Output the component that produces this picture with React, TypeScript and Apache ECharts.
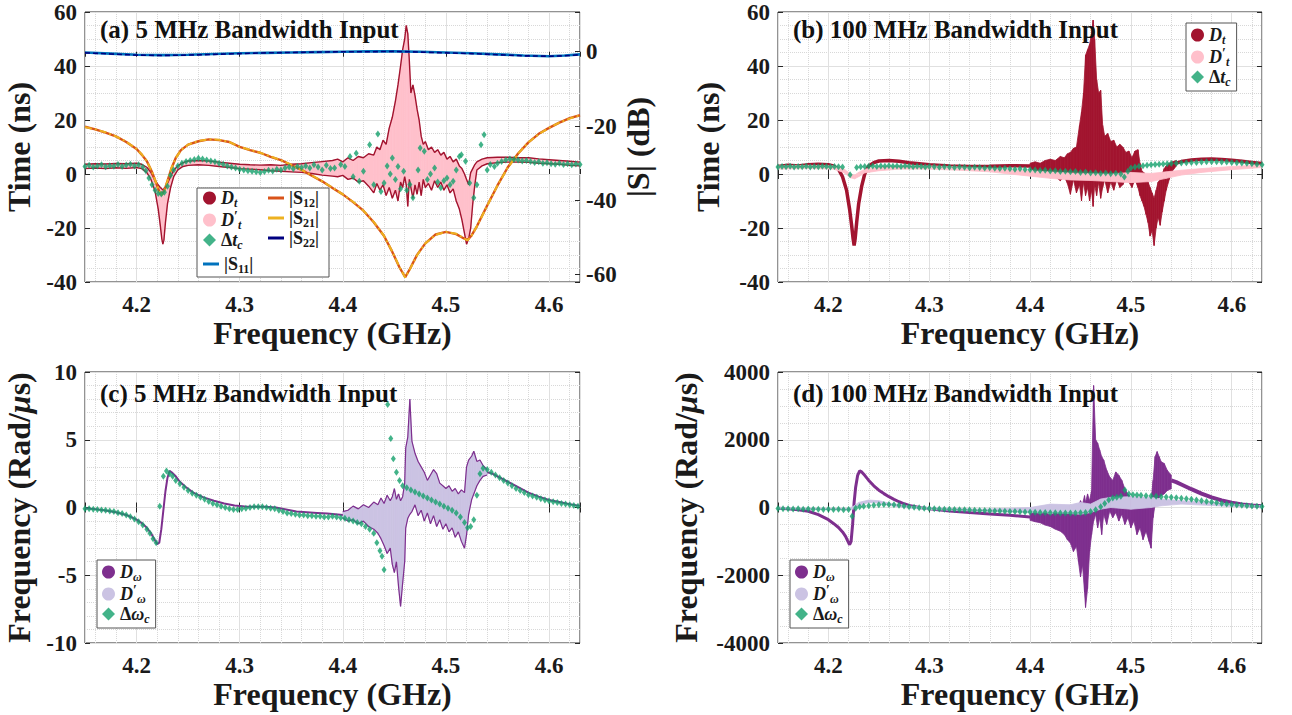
import React, { useEffect, useRef } from "react";
import * as echarts from "echarts";

const FONT = "Liberation Serif, Times New Roman, serif";
const INK = "#1a1a1a";
const RED = "#a2142f";
const PINK = "#ffc0cb";
const GREEN = "#14a06c";
const PURPLE = "#7e2f8e";
const LAVENDER = "#cbc3e3";
const C_S11 = "#0072bd";
const C_S12 = "#d95319";
const C_S21 = "#edb120";
const C_S22 = "#000080";

// ---------- tick labels ----------
const xTicks = [4.2, 4.3, 4.4, 4.5, 4.6];
const timeTicks = [-40, -20, 0, 20, 40, 60];
const sTicks = [-60, -40, -20, 0];
const radTicksC = [-10, -5, 0, 5, 10];
const radTicksD = [-4000, -2000, 0, 2000, 4000];

// ---------- (a) 5 MHz : D_t envelope [f, low, high] (pink D't fills between) ----------
const aDtEnvelope = [
  [4.150, 2.0, 3.6], [4.160, 2.2, 3.8], [4.170, 2.0, 3.7], [4.180, 2.3, 3.9], [4.190, 2.1, 3.8],
  [4.200, 2.4, 4.0], [4.205, 2.0, 3.6], [4.210, 0.5, 2.5], [4.214, -2.0, 0.5], [4.218, -6.5, -2.5],
  [4.221, -13.0, -4.0], [4.223, -19.0, -5.0], [4.2245, -24.0, -5.5], [4.2255, -26.0, -6.0], [4.2265, -24.5, -5.5],
  [4.228, -18.0, -5.0], [4.230, -11.0, -3.5], [4.233, -5.0, -1.0], [4.236, -1.0, 1.5], [4.240, 1.5, 3.0],
  [4.245, 2.8, 4.2], [4.250, 3.2, 4.8], [4.260, 3.4, 5.0], [4.270, 3.2, 4.8], [4.280, 2.8, 4.4],
  [4.290, 2.4, 4.0], [4.300, 2.0, 3.6], [4.310, 1.8, 3.4], [4.320, 1.6, 3.3], [4.330, 1.2, 3.4],
  [4.340, 1.0, 3.2], [4.350, 0.8, 3.6], [4.360, 0.6, 3.8], [4.370, 0.2, 4.2], [4.380, -0.4, 4.6],
  [4.390, -0.8, 5.0], [4.395, -1.0, 5.5], [4.400, -0.5, 4.5], [4.405, -2.0, 6.0], [4.410, -1.5, 5.0],
  [4.415, -3.0, 6.5], [4.420, -2.5, 6.0], [4.425, -4.5, 7.5], [4.430, -7.0, 7.0], [4.433, -3.5, 10.0],
  [4.436, -6.0, 9.0], [4.439, -4.0, 12.5], [4.442, -8.0, 11.0], [4.445, -5.0, 17.0], [4.448, -9.0, 21.0],
  [4.451, -6.0, 27.0], [4.4535, -10.0, 33.0], [4.456, -3.0, 40.0], [4.458, -5.0, 46.0], [4.460, -1.0, 50.0],
  [4.4615, -4.0, 55.0], [4.463, -12.0, 52.0], [4.4645, -2.0, 42.0], [4.466, -5.0, 30.0], [4.468, -9.0, 33.0],
  [4.470, -4.0, 29.0], [4.472, -7.5, 24.0], [4.474, -3.0, 20.0], [4.476, -8.0, 14.0], [4.478, -2.0, 11.0],
  [4.480, -5.0, 12.0], [4.483, -3.5, 9.0], [4.486, -6.0, 10.0], [4.489, -2.5, 8.0], [4.492, -5.0, 9.0],
  [4.495, -3.0, 7.0], [4.498, -6.0, 8.0], [4.501, -4.0, 5.5], [4.504, -7.0, 6.5], [4.507, -5.5, 4.5],
  [4.510, -10.0, 5.5], [4.513, -13.0, 3.0], [4.5155, -17.0, 2.0], [4.518, -22.0, 0.0], [4.520, -26.0, -2.0],
  [4.522, -24.0, -4.0], [4.524, -20.0, 0.5], [4.526, -11.0, 2.0], [4.528, -4.0, 3.5], [4.530, 1.5, 4.5],
  [4.535, 3.0, 5.5], [4.540, 3.8, 6.0], [4.550, 4.2, 6.2], [4.560, 4.4, 6.2], [4.570, 4.4, 6.0],
  [4.580, 4.3, 6.0], [4.590, 4.0, 5.6], [4.600, 3.8, 5.3], [4.610, 3.6, 5.0], [4.620, 3.2, 4.7],
  [4.630, 3.0, 4.4],
];

const aDtc = [
  [4.150, 2.8], [4.154, 3.2], [4.158, 2.6], [4.162, 3.0], [4.166, 3.4], [4.170, 2.7], [4.174, 3.1],
  [4.178, 2.9], [4.182, 3.5], [4.186, 2.8], [4.190, 3.3], [4.194, 3.6], [4.198, 3.0], [4.202, 3.4],
  [4.206, 2.6], [4.209, 1.2], [4.212, -1.5], [4.215, -4.0], [4.218, -6.0], [4.221, -7.2], [4.224, -7.4],
  [4.227, -6.8], [4.230, -4.5], [4.233, -0.5], [4.236, 1.5], [4.240, 3.0], [4.244, 4.0], [4.248, 4.6],
  [4.252, 5.0], [4.256, 5.4], [4.260, 5.8], [4.264, 5.6], [4.268, 5.2], [4.272, 4.8], [4.276, 4.5],
  [4.280, 4.0], [4.284, 3.6], [4.288, 3.0], [4.292, 2.6], [4.296, 2.2], [4.300, 1.8], [4.304, 1.5],
  [4.308, 1.2], [4.312, 1.0], [4.316, 0.8], [4.320, 0.6], [4.324, 0.9], [4.328, 1.4], [4.332, 1.1],
  [4.336, 1.8], [4.340, 1.5], [4.344, 2.2], [4.348, 2.6], [4.352, 1.9], [4.356, 2.8], [4.360, 2.4],
  [4.364, 3.0], [4.368, 2.2], [4.372, 3.4], [4.376, 2.6], [4.380, 1.5], [4.384, 3.2], [4.388, 2.0],
  [4.392, 2.2], [4.398, 3.5], [4.402, 2.8], [4.407, 6.5], [4.410, -1.0], [4.413, 7.7], [4.416, -2.7],
  [4.420, 1.0], [4.426, 10.8], [4.430, -4.0], [4.434, 14.8], [4.437, -6.5], [4.440, -3.3], [4.443, 3.0],
  [4.446, 0.0], [4.448, 5.9], [4.451, -2.0], [4.4535, 2.8], [4.456, -5.5], [4.459, 1.0], [4.462, -6.0],
  [4.465, -3.9], [4.468, -8.8], [4.473, 1.5], [4.475, 9.6], [4.479, 8.4], [4.482, -2.0], [4.485, 0.0],
  [4.489, 2.2], [4.492, -3.0], [4.495, -5.1], [4.498, -2.5], [4.501, -1.5], [4.504, -4.0], [4.507, -2.7],
  [4.510, 1.5], [4.513, 6.5], [4.515, 7.1], [4.519, 4.7], [4.523, -3.3], [4.527, -8.8], [4.530, -4.0],
  [4.534, 10.8], [4.537, 14.5], [4.540, 1.5], [4.543, 3.5], [4.547, 2.8], [4.550, 4.0], [4.554, 4.6],
  [4.558, 5.2], [4.562, 5.6], [4.566, 5.4], [4.570, 5.2], [4.574, 4.8], [4.578, 5.0], [4.582, 4.6],
  [4.586, 4.3], [4.590, 4.5], [4.594, 4.0], [4.598, 4.2], [4.602, 3.8], [4.606, 3.6], [4.610, 4.0],
  [4.614, 3.5], [4.618, 3.8], [4.622, 3.4], [4.626, 3.7], [4.630, 3.5],
];

// S-parameters (dB)
const sFreqNear0 = [4.150, 4.175, 4.200, 4.225, 4.250, 4.275, 4.300, 4.325, 4.350, 4.375, 4.400,
  4.425, 4.450, 4.475, 4.500, 4.525, 4.550, 4.575, 4.600, 4.615, 4.630];
const s11 = [-0.2, -0.5, -0.8, -0.9, -0.8, -0.6, -0.4, -0.3, -0.2, -0.1, 0.0, 0.1, 0.1, 0.0, -0.2, -0.4,
  -0.7, -1.0, -1.2, -1.0, -0.7];
const s22 = [-0.3, -0.6, -0.9, -1.0, -0.9, -0.7, -0.5, -0.3, -0.2, -0.1, 0.0, 0.0, 0.1, -0.1, -0.3, -0.5,
  -0.8, -1.1, -1.2, -1.1, -0.8];
const sFreqTrans = [4.150, 4.160, 4.170, 4.180, 4.190, 4.200, 4.205, 4.210, 4.215, 4.219, 4.222, 4.2245,
  4.227, 4.230, 4.234, 4.238, 4.243, 4.250, 4.260, 4.270, 4.280, 4.290, 4.300, 4.310, 4.320, 4.330,
  4.340, 4.350, 4.360, 4.370, 4.380, 4.390, 4.400, 4.410, 4.420, 4.430, 4.440, 4.448, 4.455, 4.4605,
  4.465, 4.472, 4.480, 4.490, 4.500, 4.510, 4.517, 4.521, 4.525, 4.530, 4.540, 4.550, 4.560, 4.570,
  4.580, 4.590, 4.600, 4.610, 4.620, 4.630];
const s21 = [-20.3, -20.9, -21.7, -22.8, -24.2, -26.2, -27.6, -29.5, -32.3, -35.3, -37.6, -38.6,
  -37.4, -34.8, -31.2, -28.6, -26.6, -25.0, -24.0, -23.6, -23.7, -24.3, -25.6, -26.4, -27.2, -28.2,
  -29.2, -30.4, -31.8, -33.3, -34.9, -36.6, -38.4, -40.4, -42.8, -45.8, -49.6, -53.8, -58.0, -60.8,
  -58.6, -54.8, -51.6, -49.3, -48.5, -49.0, -50.2, -50.8, -49.5, -47.0, -41.5, -36.0, -31.2, -27.4,
  -24.4, -22.2, -20.5, -19.1, -18.0, -17.1];
const s12 = [-20.2, -20.9, -21.8, -22.8, -24.3, -26.2, -27.7, -29.5, -32.4, -35.3, -37.7, -38.5,
  -37.3, -34.8, -31.3, -28.6, -26.5, -25.0, -24.1, -23.6, -23.8, -24.3, -25.6, -26.5, -27.2, -28.3,
  -29.2, -30.5, -31.8, -33.4, -34.9, -36.7, -38.4, -40.5, -42.8, -45.9, -49.6, -53.9, -58.1, -60.7,
  -58.5, -54.7, -51.6, -49.2, -48.5, -49.1, -50.2, -50.7, -49.4, -47.0, -41.4, -36.0, -31.1, -27.4,
  -24.4, -22.1, -20.5, -19.1, -17.9, -17.1];

// ---------- (b) 100 MHz ----------
const bDtLeft = [
  [4.150, 2.8], [4.160, 3.2], [4.170, 3.0], [4.180, 3.4], [4.190, 3.6], [4.200, 3.4], [4.205, 3.0],
  [4.210, 1.8], [4.214, -1.0], [4.218, -6.0], [4.221, -13.0], [4.223, -19.0], [4.2245, -24.0],
  [4.2255, -26.5], [4.2265, -24.0], [4.228, -18.0], [4.230, -11.0], [4.233, -4.5], [4.236, 0.0],
  [4.240, 3.0], [4.245, 4.2], [4.250, 4.8], [4.260, 5.0], [4.270, 4.7], [4.280, 4.2], [4.290, 3.8],
  [4.300, 3.4], [4.320, 3.0], [4.340, 2.8], [4.360, 2.9], [4.380, 3.1], [4.400, 3.0],
];
const bDtNoise = [
  [4.400, 2.0, 4.0], [4.405, 1.0, 4.5], [4.410, 1.5, 4.0], [4.415, 0.0, 5.0], [4.420, 1.0, 5.5],
  [4.425, -1.0, 5.0], [4.430, -2.5, 6.5], [4.434, -1.0, 6.0], [4.437, -3.5, 7.5], [4.440, -7.5, 8.0],
  [4.443, -2.0, 9.5], [4.446, -7.0, 10.0], [4.449, -4.0, 18.0], [4.451, -10.0, 23.0], [4.453, -3.0, 30.0],
  [4.455, -8.0, 44.0], [4.457, -5.0, 46.0], [4.459, -10.0, 48.0], [4.461, -6.0, 52.0], [4.4625, -12.0, 57.0],
  [4.464, -4.0, 50.0], [4.466, -8.0, 35.0], [4.468, -3.0, 30.0], [4.470, -9.0, 31.0], [4.472, -5.0, 18.0],
  [4.474, -2.0, 14.0], [4.477, -7.0, 15.0], [4.480, -3.0, 12.0], [4.483, -6.0, 12.5], [4.486, -2.0, 10.0],
  [4.489, -5.0, 11.0], [4.492, -4.0, 10.0], [4.495, -1.5, 8.0], [4.498, -3.0, 8.5], [4.501, -5.0, 6.0],
  [4.504, -2.0, 8.5], [4.507, -5.0, 9.0], [4.509, -8.0, 4.0], [4.511, -10.0, 1.0], [4.513, -12.0, 0.5],
  [4.515, -15.0, -1.0], [4.517, -18.0, -3.0], [4.519, -23.0, -5.0], [4.521, -21.0, -7.0], [4.523, -26.5, -9.0],
  [4.525, -20.0, -6.0], [4.527, -16.0, -3.0], [4.529, -19.0, -2.0], [4.531, -14.0, 0.0], [4.533, -10.0, 2.0],
  [4.535, -6.0, 3.0], [4.538, -2.0, 4.0], [4.541, 1.0, 4.5], [4.545, 3.0, 5.0],
];
const bDtRight = [
  [4.545, 4.0], [4.550, 4.6], [4.560, 5.2], [4.570, 5.5], [4.580, 5.6], [4.590, 5.4], [4.600, 5.1],
  [4.610, 4.7], [4.620, 4.3], [4.630, 3.9],
];
const bDtPrime = [
  [4.150, 1.8, 3.0], [4.180, 2.0, 3.2], [4.205, 1.8, 3.0], [4.215, 0.6, 2.0], [4.222, -1.4, 0.0],
  [4.226, -1.8, -0.4], [4.230, -1.0, 0.6], [4.236, 0.4, 1.8], [4.250, 1.2, 2.6], [4.270, 1.8, 3.0],
  [4.300, 1.8, 3.0], [4.330, 1.4, 2.6], [4.360, 0.8, 2.2], [4.380, 0.0, 1.6], [4.400, -0.8, 1.2],
  [4.420, -1.6, 0.8], [4.440, -2.2, 0.4], [4.460, -2.4, 0.2], [4.480, -2.8, 0.0], [4.500, -3.2, 0.6],
  [4.520, -2.8, 0.2], [4.535, -1.6, 0.8], [4.550, -0.4, 1.4], [4.570, 0.6, 2.0], [4.600, 1.6, 2.8],
  [4.630, 2.4, 3.4],
];
const bDtc = [
  [4.150, 2.6], [4.154, 2.8], [4.158, 2.7], [4.162, 2.9], [4.166, 2.6], [4.170, 2.8], [4.174, 2.7],
  [4.178, 2.9], [4.182, 2.6], [4.186, 2.8], [4.190, 2.7], [4.194, 2.9], [4.198, 2.8], [4.202, 2.6],
  [4.206, 2.8], [4.210, 2.7], [4.214, 2.6], [4.2215, -0.3], [4.228, 2.4], [4.232, 2.7], [4.236, 2.8],
  [4.240, 2.9], [4.244, 3.0], [4.248, 2.8], [4.252, 3.0], [4.256, 2.9], [4.260, 3.1], [4.264, 2.9],
  [4.268, 3.0], [4.272, 2.8], [4.276, 3.0], [4.280, 2.9], [4.284, 2.7], [4.288, 2.9], [4.292, 2.8],
  [4.296, 2.6], [4.300, 2.8], [4.305, 2.7], [4.310, 2.5], [4.315, 2.7], [4.320, 2.6], [4.325, 2.4],
  [4.330, 2.6], [4.335, 2.5], [4.340, 2.3], [4.345, 2.5], [4.350, 2.4], [4.355, 2.2], [4.360, 2.3],
  [4.365, 2.1], [4.370, 2.0], [4.375, 2.1], [4.380, 1.9], [4.385, 1.8], [4.390, 1.9], [4.395, 1.7],
  [4.400, 1.6], [4.405, 1.5], [4.410, 1.3], [4.415, 1.4], [4.420, 1.1], [4.425, 1.2], [4.430, 0.9],
  [4.435, 1.0], [4.440, 0.8], [4.445, 0.9], [4.450, 0.6], [4.455, 0.7], [4.460, 0.4], [4.465, 0.5],
  [4.470, 0.2], [4.475, 0.4], [4.480, 0.1], [4.485, 0.3], [4.490, 0.0], [4.4935, -1.1], [4.497, 1.0],
  [4.500, 2.2], [4.504, 2.6], [4.508, 2.9], [4.512, 3.1], [4.516, 3.2], [4.520, 3.4], [4.524, 3.5],
  [4.528, 3.6], [4.532, 3.7], [4.536, 3.8], [4.540, 3.9], [4.545, 4.0], [4.550, 4.1], [4.555, 4.2],
  [4.560, 4.3], [4.565, 4.3], [4.570, 4.4], [4.575, 4.5], [4.580, 4.5], [4.585, 4.5], [4.590, 4.4],
  [4.595, 4.4], [4.600, 4.3], [4.605, 4.2], [4.610, 4.1], [4.615, 4.0], [4.620, 3.8], [4.625, 3.6],
  [4.630, 3.4],
];

// ---------- (c) 5 MHz : D_omega ----------
const cDwLeft = [
  [4.150, -0.05], [4.160, -0.12], [4.170, -0.22], [4.180, -0.35], [4.190, -0.55], [4.200, -0.9],
  [4.205, -1.15], [4.210, -1.5], [4.214, -1.9], [4.217, -2.3], [4.220, -2.7], [4.222, -2.6],
  [4.224, -1.6], [4.226, -0.2], [4.228, 1.2], [4.230, 2.2], [4.232, 2.7], [4.234, 2.6], [4.238, 2.3],
  [4.242, 1.9], [4.248, 1.5], [4.255, 1.1], [4.265, 0.75], [4.275, 0.5], [4.285, 0.3], [4.295, 0.15],
  [4.305, 0.08], [4.315, 0.05], [4.325, 0.05], [4.335, 0.0], [4.345, -0.15], [4.355, -0.3],
  [4.365, -0.35], [4.375, -0.4], [4.385, -0.45], [4.400, -0.55],
];
const cDwNoise = [
  [4.400, -0.8, -0.3], [4.405, -1.0, -0.2], [4.410, -0.9, 0.1], [4.415, -1.2, -0.1], [4.420, -1.0, 0.2],
  [4.425, -1.4, 0.0], [4.430, -1.6, 0.4], [4.434, -1.9, 0.2], [4.437, -2.3, 0.7], [4.440, -2.8, 0.3],
  [4.443, -3.4, 0.9], [4.446, -3.0, 0.5], [4.448, -4.2, 0.8], [4.450, -4.8, 1.4], [4.452, -4.0, 0.6],
  [4.454, -5.8, 1.0], [4.456, -7.3, 0.5], [4.458, -5.6, 0.8], [4.460, -4.0, 1.8], [4.461, -1.5, 4.4],
  [4.463, -0.8, 5.2], [4.465, -0.5, 8.0], [4.467, -0.3, 4.9], [4.470, 0.2, 4.0], [4.473, -0.6, 3.4],
  [4.476, -0.2, 3.0], [4.479, -1.0, 2.6], [4.482, -0.4, 2.0], [4.485, -1.2, 2.4], [4.488, -0.6, 2.8],
  [4.491, -1.4, 2.5], [4.494, -0.9, 1.8], [4.497, -1.6, 1.6], [4.500, -1.2, 1.4], [4.503, -1.8, 1.6],
  [4.506, -1.5, 1.2], [4.509, -2.2, 1.4], [4.512, -1.8, 1.0], [4.515, -2.5, 1.3], [4.518, -3.0, 1.1],
  [4.520, -2.0, 3.0], [4.522, -0.5, 3.5], [4.525, 0.6, 3.8], [4.527, 1.0, 4.15], [4.530, 1.6, 3.4],
  [4.533, 2.0, 3.5], [4.536, 2.3, 3.1], [4.540, 2.4, 2.8],
];
const cDwRight = [
  [4.540, 2.6], [4.545, 2.5], [4.550, 2.3], [4.560, 1.9], [4.570, 1.5], [4.580, 1.1], [4.590, 0.8],
  [4.600, 0.55], [4.610, 0.4], [4.620, 0.25], [4.630, 0.12],
];
const cDwc = [
  [4.150, -0.1], [4.154, -0.1], [4.158, -0.12], [4.162, -0.15], [4.166, -0.18], [4.170, -0.2],
  [4.174, -0.25], [4.178, -0.3], [4.182, -0.38], [4.186, -0.45], [4.190, -0.55], [4.194, -0.68],
  [4.198, -0.85], [4.202, -1.05], [4.206, -1.3], [4.210, -1.6], [4.213, -1.9], [4.216, -2.3],
  [4.219, -2.6], [4.2225, 0.1], [4.226, 2.3], [4.229, 2.7], [4.232, 2.5], [4.235, 2.3], [4.238, 2.0],
  [4.242, 1.75], [4.246, 1.5], [4.250, 1.25], [4.254, 1.05], [4.258, 0.9], [4.262, 0.75], [4.266, 0.6],
  [4.270, 0.45], [4.274, 0.3], [4.278, 0.2], [4.282, 0.1], [4.286, 0.0], [4.290, -0.1], [4.294, -0.15],
  [4.298, -0.15], [4.302, -0.1], [4.306, -0.05], [4.310, 0.0], [4.314, 0.05], [4.318, 0.05],
  [4.322, 0.05], [4.326, 0.0], [4.330, -0.05], [4.334, -0.1], [4.338, -0.2], [4.342, -0.3],
  [4.346, -0.4], [4.350, -0.45], [4.354, -0.5], [4.358, -0.55], [4.362, -0.55], [4.366, -0.6],
  [4.370, -0.6], [4.374, -0.65], [4.378, -0.65], [4.382, -0.7], [4.386, -0.7], [4.390, -0.65],
  [4.394, -0.7], [4.398, -0.75], [4.402, -0.8], [4.406, -0.9], [4.410, -1.0], [4.414, -1.1],
  [4.418, -1.2], [4.422, -1.4], [4.426, -1.6], [4.430, -1.9], [4.433, -2.6], [4.436, -3.2],
  [4.438, -3.6], [4.440, -4.6], [4.4435, 7.6], [4.4465, 5.1], [4.449, 3.6], [4.452, 2.6], [4.455, 2.0],
  [4.458, 1.6], [4.462, 1.45], [4.466, 1.3], [4.470, 1.15], [4.474, 1.0], [4.478, 0.85], [4.482, 0.7],
  [4.486, 0.55], [4.490, 0.4], [4.494, 0.25], [4.498, 0.1], [4.502, -0.05], [4.506, -0.2], [4.510, -0.4],
  [4.514, -0.7], [4.518, -1.1], [4.521, -1.5], [4.524, -1.4], [4.527, -0.9], [4.530, 0.9], [4.533, 2.5],
  [4.536, 2.9], [4.540, 2.8], [4.544, 2.6], [4.548, 2.4], [4.552, 2.2], [4.556, 2.0], [4.560, 1.8],
  [4.564, 1.6], [4.568, 1.4], [4.572, 1.25], [4.576, 1.1], [4.580, 0.95], [4.584, 0.85], [4.588, 0.75],
  [4.592, 0.65], [4.596, 0.55], [4.600, 0.48], [4.604, 0.42], [4.608, 0.36], [4.612, 0.3], [4.616, 0.25],
  [4.620, 0.2], [4.624, 0.15], [4.628, 0.1],
];

// ---------- (d) 100 MHz : D_omega ----------
const dDwLeft = [
  [4.150, -20], [4.160, -40], [4.170, -70], [4.180, -110], [4.190, -210], [4.200, -360], [4.205, -470],
  [4.210, -590], [4.214, -720], [4.217, -850], [4.219, -980], [4.221, -1100], [4.2225, -1000],
  [4.224, -500], [4.2255, 150], [4.227, 600], [4.229, 950], [4.231, 1080], [4.233, 1050], [4.236, 950],
  [4.240, 800], [4.245, 640], [4.250, 510], [4.255, 410], [4.260, 320], [4.265, 240], [4.270, 170],
  [4.275, 110], [4.280, 60], [4.290, 0], [4.300, -40], [4.320, -100], [4.340, -150], [4.360, -190],
  [4.380, -230], [4.400, -280],
];
const dDwNoise = [
  [4.400, -380, -180], [4.405, -420, -150], [4.410, -450, -200], [4.415, -520, -150], [4.420, -560, -220],
  [4.425, -640, -150], [4.430, -700, -200], [4.434, -800, -100], [4.437, -950, -150], [4.440, -1050, -50],
  [4.443, -1300, -100], [4.446, -1150, 100], [4.448, -1600, 50], [4.450, -2050, 200], [4.452, -1700, 100],
  [4.454, -2500, 350], [4.455, -2950, 150], [4.457, -2400, 400], [4.459, -1300, 200], [4.461, -800, 500],
  [4.463, -400, 3600], [4.465, -200, 2000], [4.467, -600, 1900], [4.469, -300, 1700], [4.471, -800, 1500],
  [4.473, -200, 1400], [4.476, -500, 1100], [4.479, -100, 900], [4.482, -300, 800], [4.485, -150, 1050],
  [4.488, -400, 950], [4.491, -200, 800], [4.494, -500, 550], [4.497, -300, 400], [4.500, -600, 300],
  [4.503, -400, 250], [4.506, -800, 200], [4.509, -600, 150], [4.512, -950, 200], [4.515, -700, 150],
  [4.518, -1000, 100], [4.520, -1200, 200], [4.522, -300, 800], [4.524, 100, 1500], [4.526, 200, 1650],
  [4.528, 300, 1500], [4.530, 350, 1350], [4.533, 400, 1300], [4.536, 500, 1100], [4.540, 550, 950],
];
const dDwRight = [
  [4.540, 800], [4.545, 750], [4.550, 680], [4.560, 540], [4.570, 410], [4.580, 300], [4.590, 210],
  [4.600, 140], [4.610, 90], [4.620, 60], [4.630, 40],
];
const dDwPrime = [
  [4.150, -40, 0], [4.200, -60, -20], [4.220, -80, -20], [4.225, -40, 40], [4.230, 50, 150],
  [4.240, 150, 220], [4.250, 130, 200], [4.260, 60, 130], [4.280, -20, 40], [4.300, -60, 0],
  [4.350, -110, -50], [4.400, -150, 0], [4.420, -150, 100], [4.440, -180, 80], [4.450, -200, 150],
  [4.460, -150, 100], [4.470, -50, 250], [4.480, 0, 300], [4.500, -50, 320], [4.520, 0, 300],
  [4.530, 50, 250], [4.550, 100, 200], [4.580, 60, 150], [4.600, 30, 100], [4.630, 0, 50],
];
const dDwc = [
  [4.150, -30], [4.155, -40], [4.160, -35], [4.165, -45], [4.170, -40], [4.175, -50], [4.180, -45],
  [4.185, -55], [4.190, -50], [4.195, -60], [4.200, -55], [4.205, -60], [4.210, -55], [4.215, -65],
  [4.220, -60], [4.2235, -260], [4.227, -20], [4.231, 20], [4.235, 40], [4.240, 55], [4.245, 70],
  [4.250, 80], [4.255, 90], [4.260, 90], [4.265, 80], [4.270, 65], [4.275, 45], [4.280, 25], [4.285, 10],
  [4.290, -5], [4.295, -20], [4.300, -30], [4.305, -40], [4.310, -45], [4.315, -50], [4.320, -55],
  [4.325, -60], [4.330, -65], [4.335, -70], [4.340, -75], [4.345, -80], [4.350, -85], [4.355, -90],
  [4.360, -95], [4.365, -100], [4.370, -105], [4.375, -110], [4.380, -115], [4.385, -120], [4.390, -125],
  [4.395, -130], [4.400, -135], [4.405, -140], [4.410, -145], [4.415, -148], [4.420, -152], [4.425, -156],
  [4.430, -160], [4.435, -163], [4.440, -165], [4.445, -163], [4.450, -158], [4.455, -145], [4.460, -120],
  [4.465, -70], [4.470, 20], [4.474, 120], [4.478, 220], [4.482, 280], [4.486, 300], [4.490, 330],
  [4.494, 520], [4.498, 400], [4.502, 380], [4.506, 370], [4.510, 360], [4.515, 350], [4.520, 340],
  [4.525, 330], [4.530, 320], [4.535, 310], [4.540, 300], [4.545, 290], [4.550, 275], [4.555, 260],
  [4.560, 240], [4.565, 220], [4.570, 200], [4.575, 180], [4.580, 160], [4.585, 140], [4.590, 120],
  [4.595, 105], [4.600, 90], [4.605, 75], [4.610, 65], [4.615, 55], [4.620, 45], [4.625, 35], [4.630, 30],
];

// ---------- helpers ----------
const pairs = (xs: number[], ys: number[]) => xs.map((x, i) => [x, ys[i]]);
const edge = (env: number[][], k: number) => env.map((r) => [r[0], r[k]]);

function bandSeries(name: string, xi: number, yi: number, env: number[][], color: string, z: number) {
  const data: number[][] = [];
  for (let i = 0; i < env.length - 1; i++) {
    data.push([env[i][0], env[i][1], env[i][2], env[i + 1][0], env[i + 1][1], env[i + 1][2]]);
  }
  return {
    name, type: "custom", xAxisIndex: xi, yAxisIndex: yi, z, clip: true, silent: true,
    itemStyle: { color },
    encode: { x: [0, 3], y: [1, 2, 4, 5] },
    data,
    renderItem: (_p: any, api: any) => {
      const p1 = api.coord([api.value(0), api.value(1)]);
      const p2 = api.coord([api.value(3), api.value(4)]);
      const p3 = api.coord([api.value(3), api.value(5)]);
      const p4 = api.coord([api.value(0), api.value(2)]);
      return {
        type: "polygon",
        shape: { points: [p1, p2, p3, p4] },
        style: { fill: color, stroke: color, lineWidth: 0.8 },
      };
    },
  };
}

function lineSeries(name: string, xi: number, yi: number, data: number[][], color: string, width: number, z: number, type: any = "solid") {
  return {
    name, type: "line", xAxisIndex: xi, yAxisIndex: yi, data, z, silent: true,
    showSymbol: false, symbol: "none", clip: true,
    lineStyle: { color, width, type },
    itemStyle: { color },
  };
}

function scatterSeries(name: string, xi: number, yi: number, data: number[][], z: number) {
  return {
    name, type: "scatter", xAxisIndex: xi, yAxisIndex: yi, data, z, silent: true, clip: true,
    symbol: "diamond", symbolSize: [5, 7],
    itemStyle: { color: GREEN },
  };
}

const TICK = 23;
const NAME = 32;
const gridLine = () => ({ color: "#e0e0e0", width: 1 });
const minorLine = () => ({ color: "#d8d8d8", width: 1, type: "dotted" });
const labelStyle = () => ({ fontFamily: FONT, fontWeight: "bold", fontSize: TICK, color: INK });
const nameStyle = () => ({ fontFamily: FONT, fontWeight: "bold", fontSize: NAME, color: INK });

const tickFmt = (ticks: number[], digits: number) => (v: number) =>
  ticks.some((t) => Math.abs(t - v) < 1e-6) ? v.toFixed(digits) : "";

function xAxes(gi: number) {
  const common = () => ({
    type: "value", gridIndex: gi, min: 4.15, max: 4.63, minInterval: 0.1, maxInterval: 0.1,
    axisLine: { show: false },
    axisTick: { show: true, inside: true, length: 5, lineStyle: { color: "#262626" } },
    minorTick: { show: false, splitNumber: 5 },
  });
  return [
    {
      ...common(), position: "bottom",
      axisLabel: { show: true, margin: 11, ...labelStyle(), formatter: tickFmt(xTicks, 1) },
      splitLine: { show: true, lineStyle: gridLine() },
      minorSplitLine: { show: true, lineStyle: minorLine() },
      name: "Frequency (GHz)", nameLocation: "middle", nameGap: 34,
      nameTextStyle: nameStyle(),
    },
    {
      ...common(), position: "top",
      axisLabel: { show: false }, splitLine: { show: false }, minorSplitLine: { show: false },
    },
  ];
}

function yAxis(gi: number, min: number, max: number, interval: number, ticks: number[], minorSplit: number, name: any, nameGap: number, rich?: any) {
  const common = () => ({
    type: "value", gridIndex: gi, min, max, interval,
    axisLine: { show: false },
    axisTick: { show: true, inside: true, length: 5, lineStyle: { color: "#262626" } },
    minorTick: { show: false, splitNumber: minorSplit },
  });
  const nts: any = nameStyle();
  if (rich) nts.rich = rich;
  return [
    {
      ...common(), position: "left",
      axisLabel: { show: true, margin: 8, ...labelStyle(), formatter: tickFmt(ticks, 0) },
      splitLine: { show: true, lineStyle: gridLine() },
      minorSplitLine: { show: true, lineStyle: minorLine() },
      name, nameLocation: "middle", nameGap, nameRotate: 90,
      nameTextStyle: nts,
    },
    {
      ...common(), position: "right",
      axisLabel: { show: false }, splitLine: { show: false }, minorSplitLine: { show: false },
    },
  ];
}

const RICH: any = {
  i: { fontFamily: FONT, fontStyle: "italic", fontWeight: "bold", fontSize: 18, lineHeight: 16, color: INK },
  s: { fontFamily: FONT, fontStyle: "italic", fontWeight: "bold", fontSize: 12, lineHeight: 22, verticalAlign: "bottom", color: INK },
  p: { fontFamily: FONT, fontWeight: "bold", fontSize: 14, lineHeight: 22, verticalAlign: "top", color: INK },
  b: { fontFamily: FONT, fontWeight: "bold", fontSize: 18, lineHeight: 16, color: INK },
  r: { fontFamily: FONT, fontWeight: "bold", fontSize: 18, lineHeight: 16, color: INK },
  n: { fontFamily: FONT, fontWeight: "bold", fontSize: 12, lineHeight: 22, verticalAlign: "bottom", color: INK },
};
const LEGEND_TEXT: Record<string, string> = {
  Dt: "{i|D}{p|′}{s|t}".replace("{p|′}", ""),
  Dtp: "{i|D}{p|′}{s|t}",
  Dtc: "{b|Δ}{i|t}{s|c}",
  S11: "{r||S}{n|11}{r||}",
  S12: "{r||S}{n|12}{r||}",
  S21: "{r||S}{n|21}{r||}",
  S22: "{r||S}{n|22}{r||}",
  Dw: "{i|D}{s|ω}",
  Dwp: "{i|D}{p|′}{s|ω}",
  Dwc: "{b|Δ}{i|ω}{s|c}",
};

function legend(left: number, top: number, data: any[], opts: any = {}) {
  return {
    orient: "vertical", left, top, itemGap: 0, itemTextGap: 8, itemWidth: 13, itemHeight: 13,
    padding: 0, selectedMode: false, z: 20,
    formatter: (name: string) => LEGEND_TEXT[name.split("_")[0]] ?? name,
    textStyle: { fontFamily: FONT, fontSize: 18, color: INK, rich: RICH },
    data,
    ...opts,
  };
}
const boxed = () => ({ padding: [3, 6, 3, 5], borderColor: "#555", borderWidth: 1, backgroundColor: "#fff" });

function buildOption() {
  const grids = [
    { left: 85, top: 12, width: 495, height: 270 },
    { left: 778, top: 12, width: 484, height: 270 },
    { left: 85, top: 372, width: 495, height: 271 },
    { left: 778, top: 372, width: 484, height: 271 },
  ].map((g) => ({ ...g, show: true, borderColor: "#262626", borderWidth: 1, backgroundColor: "#fff", containLabel: false, outerBoundsMode: "none" }));

  const xAxis = [...xAxes(0), ...xAxes(1), ...xAxes(2), ...xAxes(3)];

  const radName = "{n|Frequency (Rad/}{m|μ}{n|s)}";
  const radRich = () => ({
    n: { fontFamily: FONT, fontWeight: "bold", fontSize: NAME, color: INK },
    m: { fontFamily: FONT, fontWeight: "bold", fontStyle: "italic", fontSize: NAME, color: INK },
  });
  const yA = yAxis(0, -40, 60, 20, timeTicks, 4, "Time (ns)", 50);
  const yS = {
    type: "value", gridIndex: 0, position: "right", min: -62, max: 10.7, minInterval: 20, maxInterval: 20,
    axisLine: { show: false },
    axisTick: { show: true, inside: true, length: 5, lineStyle: { color: "#262626" } },
    axisLabel: { show: true, margin: 6, ...labelStyle(), formatter: tickFmt(sTicks, 0) },
    splitLine: { show: false },
    name: "|S| (dB)", nameLocation: "middle", nameGap: 42, nameRotate: 90,
    nameTextStyle: nameStyle(),
  };
  const yB = yAxis(1, -40, 60, 20, timeTicks, 4, "Time (ns)", 54);
  const yC = yAxis(2, -10, 10, 5, radTicksC, 5, radName, 50, radRich());
  const yD = yAxis(3, -4000, 4000, 2000, radTicksD, 4, radName, 76, radRich());
  const yAxisArr = [yA[0], yS, yB[0], yB[1], yC[0], yC[1], yD[0], yD[1]];

  const series: any[] = [
    // (a)
    bandSeries("Dtp_a", 0, 0, aDtEnvelope, PINK, 2),
    lineSeries("Dt_a", 0, 0, edge(aDtEnvelope, 2), RED, 1.4, 3),
    lineSeries("DtLo_a", 0, 0, edge(aDtEnvelope, 1), RED, 1.4, 3),
    lineSeries("S12_a", 0, 1, pairs(sFreqTrans, s12), C_S12, 2.4, 4),
    lineSeries("S21_a", 0, 1, pairs(sFreqTrans, s21), C_S21, 2, 4, [7, 3, 2, 3]),
    lineSeries("S11_a", 0, 1, pairs(sFreqNear0, s11), C_S11, 2.6, 4),
    lineSeries("S22_a", 0, 1, pairs(sFreqNear0, s22), C_S22, 1.6, 4, [5, 3]),
    scatterSeries("Dtc_a", 0, 0, aDtc, 6),
    // (b)
    lineSeries("Dt_b", 2, 2, bDtLeft, RED, 3.5, 3),
    lineSeries("DtR_b", 2, 2, bDtRight, RED, 3.5, 3),
    bandSeries("DtN_b", 2, 2, bDtNoise, RED, 3),
    bandSeries("Dtp_b", 2, 2, bDtPrime, PINK, 4),
    scatterSeries("Dtc_b", 2, 2, bDtc, 6),
    // (c)
    bandSeries("Dwp_c", 4, 4, cDwNoise, LAVENDER, 2),
    lineSeries("DwHi_c", 4, 4, edge(cDwNoise, 2), PURPLE, 1.2, 3),
    lineSeries("DwLo_c", 4, 4, edge(cDwNoise, 1), PURPLE, 1.2, 3),
    lineSeries("Dw_c", 4, 4, cDwLeft, PURPLE, 2, 3),
    lineSeries("DwR_c", 4, 4, cDwRight, PURPLE, 2, 3),
    scatterSeries("Dwc_c", 4, 4, cDwc, 6),
    // (d)
    bandSeries("DwN_d", 6, 6, dDwNoise, PURPLE, 2),
    lineSeries("Dw_d", 6, 6, dDwLeft, PURPLE, 3, 2),
    lineSeries("DwR_d", 6, 6, dDwRight, PURPLE, 4, 2),
    bandSeries("Dwp_d", 6, 6, dDwPrime, LAVENDER, 4),
    scatterSeries("Dwc_d", 6, 6, dDwc, 6),
  ];

  const titleStyle = () => ({ fontFamily: FONT, fontWeight: "bold", fontSize: 25, color: "#111" });
  const title = [
    { text: "(a) 5 MHz Bandwidth Input", left: 100, top: 17, padding: 0, textStyle: titleStyle() },
    { text: "(b) 100 MHz Bandwidth Input", left: 793, top: 17, padding: 0, textStyle: titleStyle() },
    { text: "(c) 5 MHz Bandwidth Input", left: 100, top: 381, padding: 0, textStyle: titleStyle() },
    { text: "(d) 100 MHz Bandwidth Input", left: 793, top: 381, padding: 0, textStyle: titleStyle() },
  ];

  const legends = [
    legend(203, 189, [
      { name: "Dt_a", icon: "circle", itemStyle: { color: RED } },
      { name: "Dtp_a", icon: "circle", itemStyle: { color: PINK } },
      { name: "Dtc_a", icon: "diamond", itemStyle: { color: GREEN } },
    ]),
    legend(203, 255, [{ name: "S11_a", icon: "rect", itemStyle: { color: C_S11 } }], { itemWidth: 16, itemHeight: 3 }),
    legend(268, 189, [
      { name: "S12_a", icon: "rect", itemStyle: { color: C_S12 } },
      { name: "S21_a", icon: "rect", itemStyle: { color: C_S21 } },
      { name: "S22_a", icon: "rect", itemStyle: { color: C_S22 } },
    ], { itemWidth: 16, itemHeight: 3 }),
    legend(1186, 23, [
      { name: "Dt_b", icon: "circle", itemStyle: { color: RED } },
      { name: "Dtp_b", icon: "circle", itemStyle: { color: PINK } },
      { name: "Dtc_b", icon: "diamond", itemStyle: { color: GREEN } },
    ], boxed()),
    legend(97, 560, [
      { name: "Dw_c", icon: "circle", itemStyle: { color: PURPLE } },
      { name: "Dwp_c", icon: "circle", itemStyle: { color: LAVENDER } },
      { name: "Dwc_c", icon: "diamond", itemStyle: { color: GREEN } },
    ], boxed()),
    legend(790, 560, [
      { name: "Dw_d", icon: "circle", itemStyle: { color: PURPLE } },
      { name: "Dwp_d", icon: "circle", itemStyle: { color: LAVENDER } },
      { name: "Dwc_d", icon: "diamond", itemStyle: { color: GREEN } },
    ], boxed()),
  ];

  return {
    animation: false,
    backgroundColor: "#ffffff",
    textStyle: { fontFamily: FONT },
    grid: grids,
    xAxis,
    yAxis: yAxisArr,
    title,
    legend: legends,
    graphic: [
      { type: "rect", z: 15, shape: { x: 197, y: 188, width: 132, height: 89 }, style: { fill: "#fff", stroke: "#555", lineWidth: 1 } },
    ],
    series,
  };
}

export default function App() {
  const ref = useRef<HTMLDivElement>(null);
  useEffect(() => {
    if (!ref.current) return;
    const chart = echarts.init(ref.current, undefined, { renderer: "svg" });
    chart.setOption(buildOption() as any);
    return () => chart.dispose();
  }, []);
  return (
    <div
      ref={ref}
      style={{ position: "fixed", left: 0, top: 0, width: 1292, height: 715, background: "#fff" }}
    />
  );
}
